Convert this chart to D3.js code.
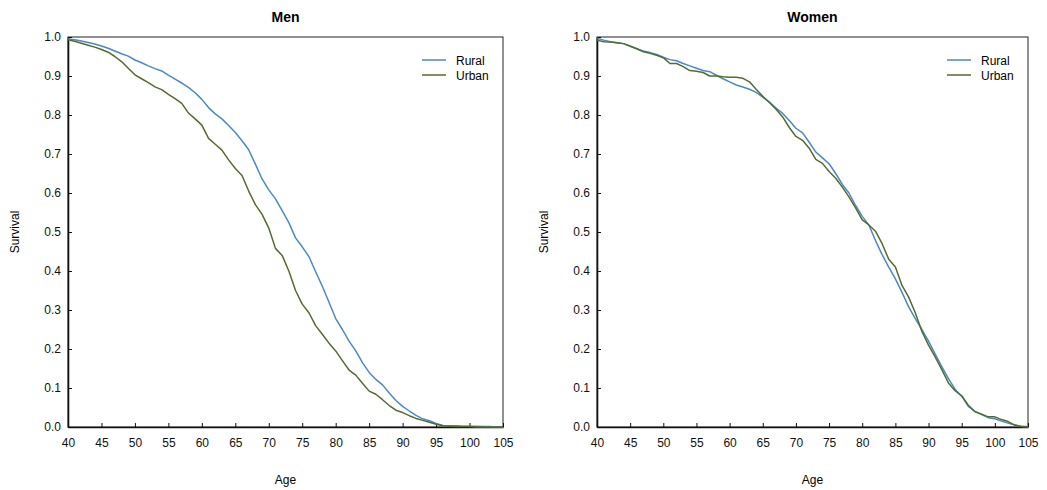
<!DOCTYPE html>
<html>
<head>
<meta charset="utf-8">
<script src="https://cdn.jsdelivr.net/npm/d3@7"></script>
<style>
  body { margin: 0; background: #fff; }
  svg { font-family: "Liberation Sans", Arial, sans-serif; }
</style>
</head>
<body>
<svg id="chart" width="1047" height="490"></svg>
<script>
// ages 40..105, one value per year
const ages = d3.range(40, 106);
const xTicks = d3.range(40, 106, 5);
const yTicks = d3.range(0, 1.01, 0.1);
const seriesNames = ["Rural", "Urban"];
const seriesColors = ["#4a89c8", "#556b2f"];

const menRural = [
  .995, .993, .990, .986, .982, .977, .971, .964, .957, .951,
  .941, .934, .926, .919, .913, .902, .892, .882, .871, .857,
  .840, .819, .803, .790, .773, .755, .734, .711, .674, .636,
  .608, .585, .555, .524, .485, .462, .437, .398, .361, .320,
  .278, .250, .220, .195, .165, .140, .122, .108, .087, .068,
  .053, .041, .030, .021, .016, .009, .004, .003, .003, .002,
  .002, .002, .001, .001, .000, .000
];
const menUrban = [
  .993, .989, .984, .979, .974, .968, .961, .950, .937, .920,
  .903, .893, .883, .872, .865, .853, .842, .830, .805, .790,
  .774, .740, .725, .710, .685, .663, .645, .605, .570, .545,
  .510, .458, .440, .400, .350, .315, .293, .260, .238, .215,
  .195, .170, .146, .133, .112, .092, .084, .070, .055, .043,
  .037, .029, .022, .017, .012, .007, .003, .002, .001, .001,
  .001, .000, .000, .000, .000, .000
];
const womenRural = [
  .997, .992, .988, .985, .983, .976, .970, .964, .960, .955,
  .948, .942, .939, .932, .926, .920, .914, .911, .902, .893,
  .885, .877, .872, .866, .858, .846, .833, .818, .804, .786,
  .766, .754, .730, .705, .690, .675, .650, .622, .600, .568,
  .540, .518, .478, .442, .410, .380, .345, .308, .278, .250,
  .220, .187, .155, .124, .097, .079, .053, .040, .032, .024,
  .021, .015, .010, .005, .002, .001
];
const womenUrban = [
  .992, .988, .987, .985, .983, .977, .970, .962, .958, .953,
  .947, .932, .932, .924, .914, .912, .909, .900, .900, .898,
  .897, .897, .894, .885, .866, .848, .832, .815, .795, .768,
  .745, .735, .715, .686, .676, .655, .638, .615, .590, .562,
  .531, .518, .502, .470, .430, .410, .363, .333, .293, .245,
  .210, .180, .147, .113, .093, .080, .056, .039, .033, .026,
  .026, .019, .014, .005, .001, .000
];

const svg = d3.select("#chart");

function drawPanel(left, right, title, series) {
  const top = 37, bottom = 427;
  const x = d3.scaleLinear().domain([40, 105]).range([left, right]);
  const y = d3.scaleLinear().domain([0, 1]).range([bottom, top]);
  const g = svg.append("g");

  // frame
  g.append("rect")
    .attr("x", left).attr("y", top)
    .attr("width", right - left).attr("height", bottom - top)
    .attr("fill", "none").attr("stroke", "#222").attr("stroke-width", 1);

  const xAxis = g.append("g")
    .attr("transform", `translate(0,${bottom})`)
    .call(d3.axisBottom(x).tickValues(xTicks).tickSizeInner(-4).tickSizeOuter(0).tickPadding(11));
  const yAxis = g.append("g")
    .attr("transform", `translate(${left},0)`)
    .call(d3.axisLeft(y).tickValues(yTicks).tickFormat(d3.format(".1f")).tickSizeInner(-4).tickSizeOuter(0).tickPadding(7));

  [xAxis, yAxis].forEach(a => {
    a.select(".domain").attr("stroke", "#111").attr("stroke-width", 1.6);
    a.selectAll(".tick line").attr("stroke", "#111");
    a.selectAll("text").attr("font-size", 12).attr("fill", "#111")
      .attr("font-family", "Liberation Sans, Arial, sans-serif");
  });

  const line = d3.line().x((d, i) => x(ages[i])).y(d => y(d));
  series.forEach((s, i) => {
    g.append("path")
      .datum(s)
      .attr("fill", "none")
      .attr("stroke", seriesColors[i])
      .attr("stroke-width", 1.5)
      .attr("stroke-linejoin", "round")
      .attr("d", line);
  });

  // title
  g.append("text")
    .attr("x", (left + right) / 2).attr("y", 22)
    .attr("text-anchor", "middle")
    .attr("font-size", 14).attr("font-weight", "bold")
    .text(title);

  // axis titles
  g.append("text")
    .attr("x", (left + right) / 2).attr("y", 484)
    .attr("text-anchor", "middle")
    .attr("font-size", 12)
    .text("Age");
  g.append("text")
    .attr("transform", `translate(${left - 49},${(top + bottom) / 2}) rotate(-90)`)
    .attr("text-anchor", "middle")
    .attr("font-size", 12)
    .text("Survival");

  // legend
  seriesNames.forEach((name, i) => {
    const ly = 60 + i * 15;
    g.append("line")
      .attr("x1", right - 81).attr("x2", right - 57)
      .attr("y1", ly).attr("y2", ly)
      .attr("stroke", seriesColors[i]).attr("stroke-width", 1.5);
    g.append("text")
      .attr("x", right - 47).attr("y", ly + 4.5)
      .attr("font-size", 12)
      .text(name);
  });
}

drawPanel(68, 503, "Men", [menRural, menUrban]);
drawPanel(597, 1028, "Women", [womenRural, womenUrban]);
</script>
</body>
</html>
